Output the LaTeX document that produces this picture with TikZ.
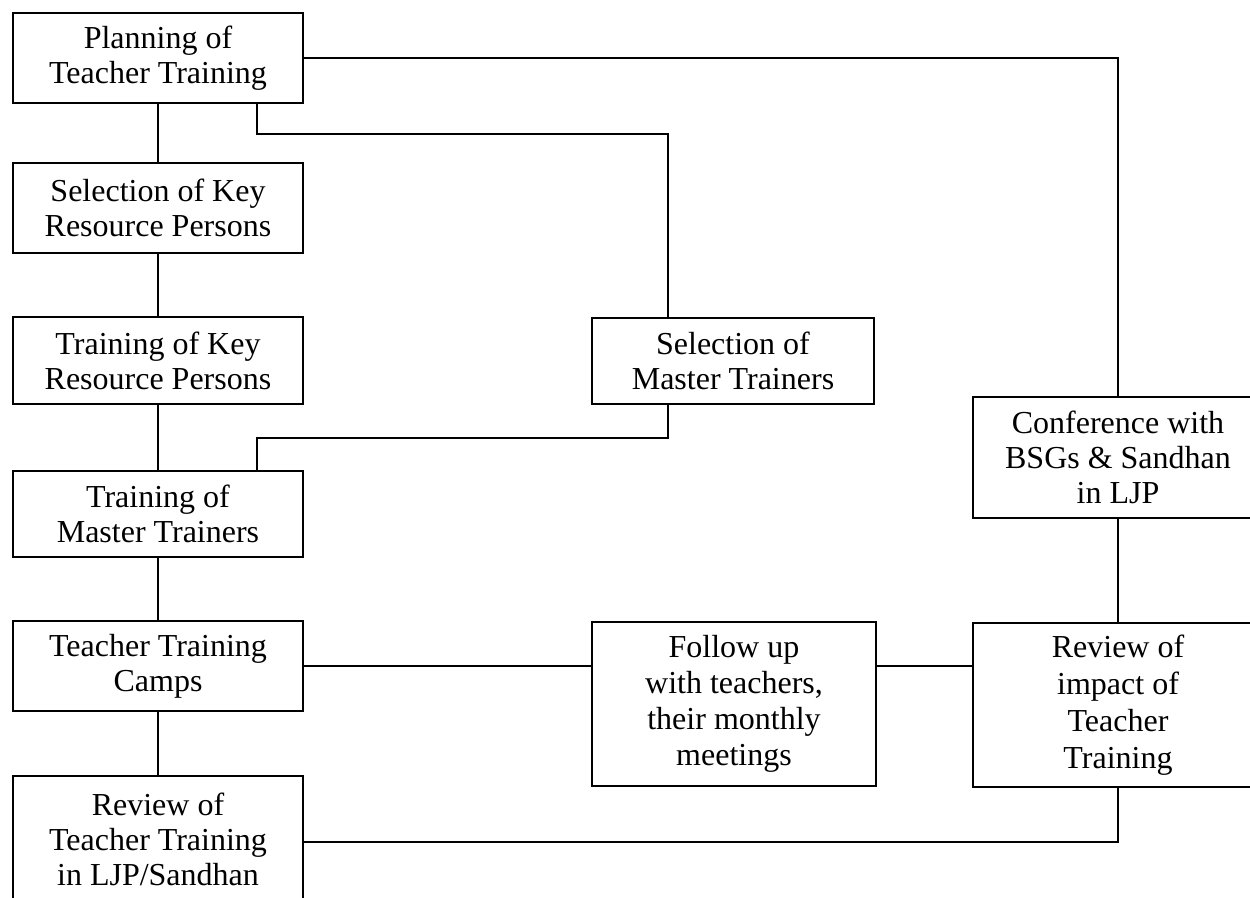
\documentclass[tikz,border=0pt]{standalone}
\usepackage{fontspec}
\setmainfont{Liberation Serif}
\usetikzlibrary{positioning}

\begin{document}
\begin{tikzpicture}[x=1pt, y=-1pt,
		stage/.style={draw, line width=1.8pt, align=center, inner sep=0pt,
			minimum width=290pt, font=\fontsize{32}{35}\selectfont},
		link/.style={line width=1.5pt}]
		
		\useasboundingbox (0,0) rectangle (1250,897);
		\clip (0,0) rectangle (1250,897);
		
		% Left column
		\node[stage, minimum height=90pt] (plan) at (158,58) {Planning of\\Teacher Training};
		\node[stage, minimum height=90pt] (selkrp) at (158,208) {Selection of Key\\Resource Persons};
		\node[stage, minimum height=87pt] (trkrp) at (158,360.5) {Training of Key\\Resource Persons};
		\node[stage, minimum height=86pt] (trmt) at (158,514) {Training of\\Master Trainers};
		\node[stage, minimum height=90pt] (camps) at (158,666) {Teacher Training\\Camps};
		\node[stage, minimum height=126pt] (revljp) at (158,839) {Review of\\Teacher Training\\in LJP/Sandhan};
		
		% Middle column
		\node[stage, minimum width=282pt, minimum height=86pt] (selmt) at (733,361) {Selection of\\Master Trainers};
		\node[stage, minimum width=284pt, minimum height=164pt, font=\fontsize{32}{36}\selectfont] (follow) at (734,704) {Follow up\\with teachers,\\their monthly\\meetings};
		
		% Right column (cut off by the page edge)
		\node[stage, minimum height=121pt] (conf) at (1118,457.5) {Conference with\\BSGs \& Sandhan\\in LJP};
		\node[stage, minimum height=164pt, font=\fontsize{32}{37}\selectfont] (impact) at (1118,705) {Review of\\impact of\\Teacher\\Training};
		
		% Main chain
		\draw[link] (plan) -- (selkrp);
		\draw[link] (selkrp) -- (trkrp);
		\draw[link] (trkrp) -- (trmt);
		\draw[link] (trmt) -- (camps);
		\draw[link] (camps) -- (revljp);
		
		% Master trainers branch
		\draw[link] ([xshift=99pt]plan.south) -- ++(0,30) -| ([xshift=-65pt]selmt.north);
		\draw[link] ([xshift=-65pt]selmt.south) -- ++(0,33) -| ([xshift=99pt]trmt.north);
		
		% Follow up and review
		\draw[link] (camps.east) -- (camps.east -| follow.west);
		\draw[link] (camps.east -| follow.east) -- (camps.east -| impact.west);
		\draw[link] (plan.east) -| (conf.north);
		\draw[link] (conf) -- (impact);
		\draw[link] ([yshift=-3pt]revljp.east) -| (impact.south);
		
	\end{tikzpicture}
\end{document}
